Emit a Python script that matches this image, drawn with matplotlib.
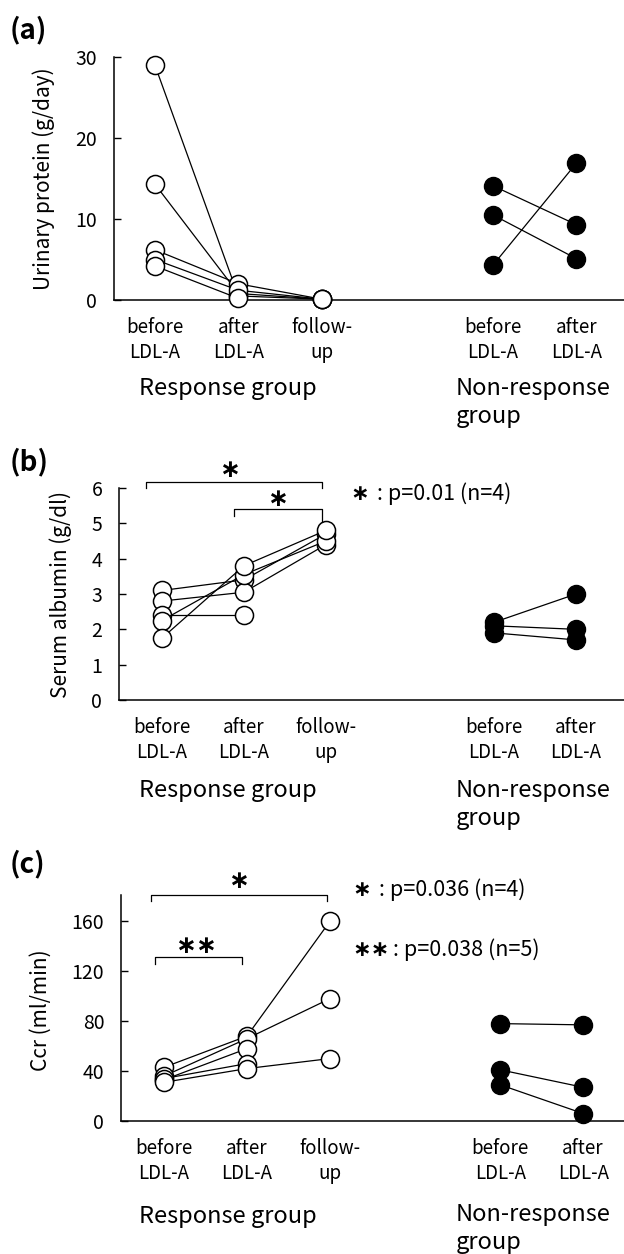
import numpy as np
import matplotlib
matplotlib.use("Agg")
import matplotlib.pyplot as plt

plt.rcParams['font.family'] = ['Noto Sans CJK JP', 'DejaVu Sans']

W, H = 624, 1254

# ---- data ----
cats_resp = ["before\nLDL-A", "after\nLDL-A", "follow-\nup"]
cats_nr = ["before\nLDL-A", "after\nLDL-A"]

# (a) urinary protein g/day, response group: before, after, follow-up
prot_before = [29.0, 14.3, 6.2, 5.0, 4.2]
prot_after = [0.5, 0.8, 2.0, 1.2, 0.2]
prot_follow = [0.1, 0.1, 0.1, 0.1, np.nan]
prot_nr_before = [14.1, 10.5, 4.3]
prot_nr_after = [9.3, 5.1, 16.9]

# (b) serum albumin g/dl
alb_before = [3.1, 2.8, 2.4, 2.25, 1.75]
alb_after = [3.4, 3.05, 2.4, 3.55, 3.8]
alb_follow = [4.7, 4.4, np.nan, 4.5, 4.8]
alb_nr_before = [2.2, 2.1, 1.9]
alb_nr_after = [3.0, 2.0, 1.7]

# (c) Ccr ml/min
ccr_before = [43, 36, 33, 34, 31]
ccr_after = [68, 66, 58, 46, 42]
ccr_follow = [160, 98, np.nan, np.nan, 50]
ccr_nr_before = [78, 41, 29]
ccr_nr_after = [77, 27, 6]

resp_x = [0, 1, 2]
nr_x = [4.05, 5.05]


def box(l, t, r, b):
    return [l / W, 1 - b / H, (r - l) / W, (b - t) / H]


fig = plt.figure(figsize=(W / 100, H / 100), dpi=100)


def panel(rect, xlim, ylim, yticks, ylabel, lab_xy, before, after, follow,
          nr_before, nr_after):
    ax = fig.add_axes(rect)
    for i in range(len(before)):
        ax.plot(resp_x, [before[i], after[i], follow[i]], '-o', color='black',
                lw=0.9, ms=13, mfc='white', mec='black', mew=1.1, clip_on=False, zorder=3)
    for i in range(len(nr_before)):
        ax.plot(nr_x, [nr_before[i], nr_after[i]], '-o', color='black',
                lw=0.9, ms=13, mfc='black', mec='black', clip_on=False, zorder=3)
    ax.set_xlim(xlim)
    ax.set_ylim(ylim)
    ax.set_yticks(yticks)
    ax.set_xticks(resp_x + nr_x)
    ax.set_xticklabels(cats_resp + cats_nr, fontsize=13.5, linespacing=1.25)
    ax.tick_params(axis='x', length=0, pad=12)
    ax.tick_params(axis='y', direction='in', length=5, width=1, pad=12, labelsize=14)
    ax.spines['top'].set_visible(False)
    ax.spines['right'].set_visible(False)
    ax.spines['left'].set_linewidth(1.1)
    ax.spines['bottom'].set_linewidth(1.1)
    ax.set_ylabel(ylabel, fontsize=15)
    ax.yaxis.set_label_coords(*lab_xy)
    return ax


star = dict(ha='center', va='center', fontsize=18, family='DejaVu Sans', fontweight='bold')

# (a)
ax_a = panel(box(114, 57, 624, 300), (-0.49, 5.62), (0, 30), [0, 10, 20, 30],
             "Urinary protein (g/day)", (-0.116, 0.5),
             prot_before, prot_after, prot_follow, prot_nr_before, prot_nr_after)

# (b)
ax_b = panel(box(119, 488, 624, 700), (-0.524, 5.634), (0, 6), [0, 1, 2, 3, 4, 5, 6],
             "Serum albumin (g/dl)", (-0.093, 0.5),
             alb_before, alb_after, alb_follow, alb_nr_before, alb_nr_after)
ax_b.plot([-0.2, -0.2, 1.95, 1.95], [6.0, 6.17, 6.17, 6.0], color='black', lw=0.9, clip_on=False)
ax_b.plot([0.88, 0.88, 1.95, 1.95], [5.2, 5.41, 5.41, 5.05], color='black', lw=0.9, clip_on=False)
ax_b.text(0.83, 6.5, "∗", **star)
ax_b.text(1.41, 5.68, "∗", **star)

# (c)
ax_c = panel(box(121, 895, 624, 1121), (-0.518, 5.542), (0, 181), [0, 40, 80, 120, 160],
             "Ccr (ml/min)", (-0.137, 0.49),
             ccr_before, ccr_after, ccr_follow, ccr_nr_before, ccr_nr_after)
ax_c.plot([-0.16, -0.16, 1.96, 1.96], [176, 181, 181, 176], color='black', lw=0.9, clip_on=False)
ax_c.plot([-0.11, -0.11, 0.94, 0.94], [126, 131, 131, 126], color='black', lw=0.9, clip_on=False)
ax_c.text(0.9, 192, "∗", **star)
ax_c.text(0.39, 140, "∗∗", **star)


# panel letters, group labels, p-value notes
def ftext(x, y, s, **kw):
    fig.text(x / W, 1 - y / H, s, **kw)


for lab, y in [("(a)", 30), ("(b)", 462), ("(c)", 864)]:
    ftext(10, y, lab, fontsize=20, fontweight='bold', va='center', ha='left')

for y_resp, y_nr in [(388, 388), (790, 790), (1216, 1214)]:
    ftext(228, y_resp, "Response group", fontsize=17, ha='center', va='center')
    ftext(456, y_nr, "Non-response", fontsize=17, ha='left', va='center')
    ftext(456, y_nr + 29, "group", fontsize=17, ha='left', va='center')

note = dict(fontsize=15.5, va='center')
bstar = dict(fontsize=16, fontweight='bold', family='DejaVu Sans', va='center')
ftext(350, 494, "∗", **bstar)
ftext(372, 494, " : p=0.01 (n=4)", **note)
ftext(352, 890, "∗", **bstar)
ftext(374, 890, " : p=0.036 (n=4)", **note)
ftext(352, 950, "∗∗", **bstar)
ftext(388, 950, " : p=0.038 (n=5)", **note)

fig.savefig("out.png", dpi=100)
